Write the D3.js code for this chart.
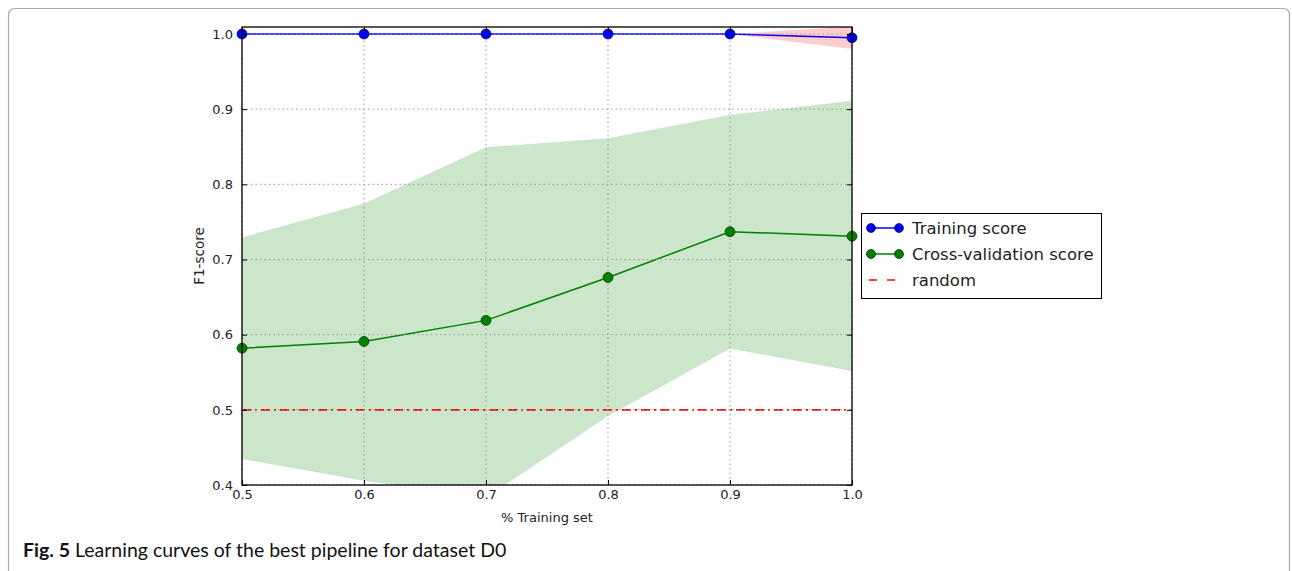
<!DOCTYPE html>
<html><head><meta charset="utf-8">
<script src="https://cdn.jsdelivr.net/npm/d3@7"></script>
<style>body{margin:0;background:#fff;}</style>
</head><body>
<svg id="c" width="1292" height="571"></svg>
<script>
const xs = [0.5, 0.6, 0.7, 0.8, 0.9, 1.0];
const trainMean = [1.0, 1.0, 1.0, 1.0, 1.0, 0.995];
const trainUpper = [1.0, 1.0, 1.0, 1.0, 1.0, 1.01];
const trainLower = [1.0, 1.0, 1.0, 1.0, 1.0, 0.98];
const cvMean = [0.582, 0.591, 0.619, 0.676, 0.737, 0.731];
const cvUpper = [0.729, 0.774, 0.849, 0.861, 0.892, 0.911];
const cvLower = [0.435, 0.406, 0.384, 0.492, 0.582, 0.552];
const randomLevel = 0.5;
const xTicks = [0.5, 0.6, 0.7, 0.8, 0.9, 1.0];
const yTicks = [0.4, 0.5, 0.6, 0.7, 0.8, 0.9, 1.0];
const legendLabels = ["Training score", "Cross-validation score", "random"];

const svg = d3.select("#c");
// outer figure frame
svg.append("rect").attr("x", 8.5).attr("y", 8.5).attr("width", 1281).attr("height", 600)
  .attr("rx", 6).attr("fill", "none").attr("stroke", "#aaa").attr("stroke-width", 1.2);

const L = 242, R = 852, T = 27, B = 485;
const y0 = d3.scaleLinear().domain([0.4, 1.0]).range([B, 34]);
const x = d3.scaleLinear().domain([0.5, 1.0]).range([L, R]);
const y = d3.scaleLinear().domain([0.4, y0.invert(T)]).range([B, T]);

svg.append("defs").append("clipPath").attr("id", "clip")
  .append("rect").attr("x", L).attr("y", T).attr("width", R - L).attr("height", B - T);
const g = svg.append("g");
const pg = g.append("g").attr("clip-path", "url(#clip)");

const idx = d3.range(xs.length);
const area = (lo, hi) => d3.area().x(i => x(xs[i])).y0(i => y(lo[i])).y1(i => y(hi[i]));
pg.append("path").attr("d", area(cvLower, cvUpper)(idx)).attr("fill", "#008000").attr("fill-opacity", 0.2)
  .attr("stroke", "#008000").attr("stroke-opacity", 0.08);
pg.append("path").attr("d", area(trainLower, trainUpper)(idx)).attr("fill", "#ff0000").attr("fill-opacity", 0.2);

// grid
const grid = g.append("g").attr("stroke", "#999").attr("stroke-width", 1).attr("stroke-dasharray", "1.5,3");
xTicks.forEach(t => grid.append("line").attr("x1", x(t)).attr("x2", x(t)).attr("y1", T).attr("y2", B));
yTicks.forEach(t => grid.append("line").attr("x1", L).attr("x2", R).attr("y1", y(t)).attr("y2", y(t)));

// random line
pg.append("line").attr("x1", L).attr("x2", R).attr("y1", y(randomLevel)).attr("y2", y(randomLevel))
  .attr("stroke", "#ff0000").attr("stroke-width", 1.6).attr("stroke-dasharray", "9,4,2,4");

const line = arr => d3.line().x(i => x(xs[i])).y(i => y(arr[i]));
pg.append("path").attr("d", line(trainMean)(idx)).attr("fill", "none").attr("stroke", "#0000ff").attr("stroke-width", 1.5);
pg.append("path").attr("d", line(cvMean)(idx)).attr("fill", "none").attr("stroke", "#008000").attr("stroke-width", 1.5);
const mk = (arr, c, e) => g.append("g").selectAll("circle").data(idx).join("circle")
  .attr("cx", i => x(xs[i])).attr("cy", i => y(arr[i])).attr("r", 5)
  .attr("fill", c).attr("stroke", e).attr("stroke-width", 0.7);
mk(trainMean, "#0000ff", "#000033");
mk(cvMean, "#008000", "#003300");

// frame
g.append("rect").attr("x", L).attr("y", T).attr("width", R - L).attr("height", B - T)
  .attr("fill", "none").attr("stroke", "#000").attr("stroke-width", 1.3);

// axes
const fontF = "DejaVu Sans, sans-serif";
const xAxis = d3.axisBottom(x).tickValues(xTicks).tickFormat(d3.format(".1f")).tickSizeInner(-5).tickSizeOuter(0).tickPadding(11);
const yAxis = d3.axisLeft(y).tickValues(yTicks).tickFormat(d3.format(".1f")).tickSizeInner(-5).tickSizeOuter(0).tickPadding(9);
const xa = svg.append("g").attr("transform", `translate(0,${B})`).call(xAxis);
const ya = svg.append("g").attr("transform", `translate(${L},0)`).call(yAxis);
[xa, ya].forEach(a => { a.select(".domain").remove(); a.selectAll("text").attr("font-family", fontF).attr("font-size", 13).attr("fill", "#222"); a.selectAll("line").attr("stroke", "#000"); });
xa.selectAll("text").attr("dy", "0.2em");
const ta = svg.append("g").attr("transform", `translate(0,${T})`).call(d3.axisTop(x).tickValues(xTicks).tickSizeInner(-5).tickSizeOuter(0).tickFormat(""));
const ra = svg.append("g").attr("transform", `translate(${R},0)`).call(d3.axisRight(y).tickValues(yTicks).tickSizeInner(-5).tickSizeOuter(0).tickFormat(""));
[ta, ra].forEach(a => a.select(".domain").remove());

svg.append("text").attr("x", (L + R) / 2).attr("y", 522).attr("text-anchor", "middle")
  .attr("font-family", fontF).attr("font-size", 13).attr("fill", "#222").text("% Training set");
svg.append("text").attr("transform", `translate(204,${(T + B) / 2}) rotate(-90)`).attr("text-anchor", "middle")
  .attr("font-family", fontF).attr("font-size", 13.5).attr("fill", "#222").text("F1-score");

// legend
const lg = svg.append("g").attr("transform", "translate(861,213)");
lg.append("rect").attr("x", 0.5).attr("y", 0.5).attr("width", 240).attr("height", 85).attr("fill", "#fff").attr("stroke", "#000").attr("stroke-width", 1);
const colors = ["#0000ff", "#008000", "#ff0000"];
legendLabels.forEach((lab, i) => {
  const yy = 15 + i * 26;
  if (i < 2) {
    lg.append("line").attr("x1", 10).attr("x2", 38).attr("y1", yy).attr("y2", yy).attr("stroke", colors[i]).attr("stroke-width", 1.5);
    [10, 38].forEach(cx => lg.append("circle").attr("cx", cx).attr("cy", yy).attr("r", 4.5).attr("fill", colors[i]).attr("stroke", "#002200").attr("stroke-width", 0.7));
  } else {
    lg.append("line").attr("x1", 8).attr("x2", 42).attr("y1", yy).attr("y2", yy).attr("stroke", colors[i]).attr("stroke-width", 1.5).attr("stroke-dasharray", "8,10");
  }
  lg.append("text").attr("x", 51).attr("y", yy).attr("dy", "0.35em").attr("font-family", fontF).attr("font-size", 16.5).attr("fill", "#222").text(lab);
});

// caption
const cap = svg.append("text").attr("x", 23).attr("y", 557).attr("font-family", "Lato, Open Sans, sans-serif").attr("font-size", 19.5).attr("fill", "#111");
cap.append("tspan").attr("font-weight", "bold").text("Fig. 5");
cap.append("tspan").text(" Learning curves of the best pipeline for dataset D0");
</script>
</body></html>
